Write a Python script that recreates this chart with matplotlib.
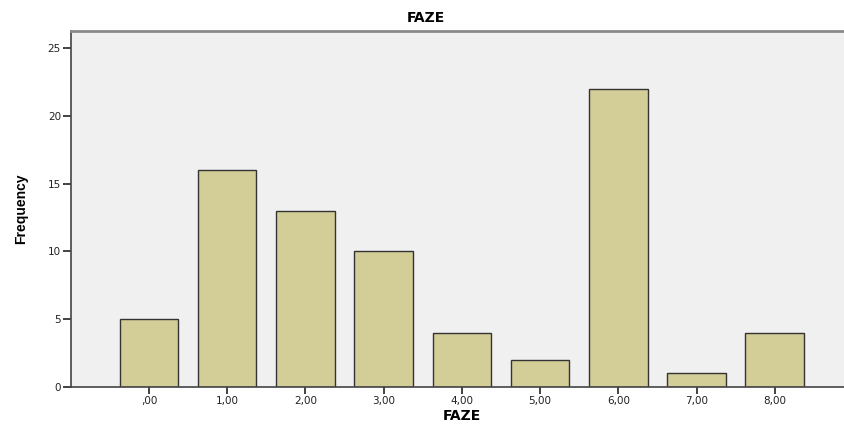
import matplotlib
matplotlib.use("Agg")
import matplotlib.pyplot as plt

categories = [",00", "1,00", "2,00", "3,00", "4,00", "5,00", "6,00", "7,00", "8,00"]
frequencies = [5, 16, 13, 10, 4, 2, 22, 1, 4]
yticks = [0, 5, 10, 15, 20, 25]

fig = plt.figure(figsize=(8.44, 4.25), dpi=100)
ax = fig.add_axes([70.7 / 844, 1 - 386.7 / 425, (853 - 70.7) / 844, (386.7 - 31) / 425])
ax.set_facecolor("#F0F0F0")

x = list(range(len(categories)))
ax.bar(x, frequencies, width=0.75, color="#D3CE97", edgecolor="#333333", linewidth=1.0, zorder=2)

ax.set_xlim(-1, 9)
ax.set_ylim(0, 26.27)
ax.set_xticks(x)
ax.set_xticklabels(categories)
ax.set_yticks(yticks)
ax.set_yticklabels([str(v) for v in yticks])

ax.tick_params(axis="both", direction="out", colors="#222222", labelcolor="#222222", labelsize=7.5, width=1.2)
ax.tick_params(axis="y", length=6, pad=1)
ax.tick_params(axis="x", length=5, pad=2)

for side in ["left", "bottom"]:
    ax.spines[side].set_color("#444444")
    ax.spines[side].set_linewidth(1.2)
ax.spines["top"].set_color("#8a8a8a")
ax.spines["top"].set_linewidth(2.0)
ax.spines["right"].set_visible(False)

ax.set_xlabel("FAZE", fontsize=10, fontweight="bold", labelpad=2)
ax.set_ylabel("Frequency", fontsize=10, fontweight="bold", family=["Liberation Sans Narrow", "Liberation Sans", "DejaVu Sans"], labelpad=14)
fig.text(425.5 / 844, 1 - 18 / 425, "FAZE", ha="center", va="center", fontsize=10, fontweight="bold")

fig.savefig("out.png", dpi=100)
